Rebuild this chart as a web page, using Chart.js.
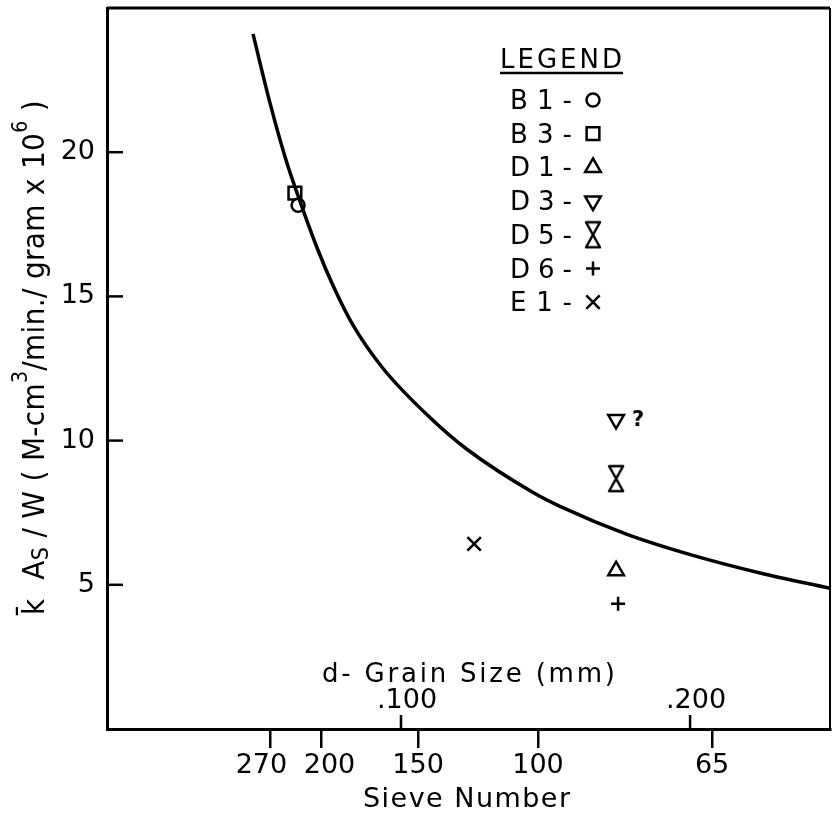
<!DOCTYPE html>
<html lang="en">
<head>
  <meta charset="UTF-8">
  <title>k As/W vs grain size</title>
  <script src="https://cdn.jsdelivr.net/npm/chart.js"></script>
  <style>
    body { margin: 0; padding: 0; background: #fff; }
    canvas { display: block; }
  </style>
</head>
<body>
  <canvas id="grainChart" width="832" height="816"></canvas>

  <script>
    // fitted curve (d in mm, k As/W)
    const curveD = [0.0488, 0.0547, 0.0600, 0.0640, 0.0713, 0.0766, 0.0834, 0.0938, 0.1100, 0.1228, 0.1457, 0.1550, 0.1782, 0.2010, 0.2242, 0.2484];
    const curveK = [24.1, 21.7, 19.8, 18.6, 16.6, 15.35, 14.0, 12.5, 10.8, 9.7, 8.2, 7.72, 6.75, 6.02, 5.41, 4.88];

    // measured samples
    const sampleNames = ['B1', 'B3', 'D1', 'D3', 'D5', 'D6', 'E1'];
    const sampleD = [0.0644, 0.0633, 0.1744, 0.1744, 0.1744, 0.1751, 0.1253];
    const sampleK = [18.16, 18.58, 5.49, 10.73, 8.68, 4.34, 6.42];

    // axes
    const sieveNumbers = ['270  ', '  200', '150', '100', '65'];
    const sieveD = [0.0547, 0.0723, 0.1059, 0.1474, 0.2076];
    const grainTicks = [0.100, 0.200];
    const grainLabels = ['.100', '.200'];
    const yTicks = [5, 10, 15, 20];

    const FONT = "'DejaVu Sans', sans-serif";
    const FONT_NARROW = "'DejaVu Sans Condensed', 'DejaVu Sans', sans-serif";

    // hourglass marker for D5
    const hourglass = document.createElement('canvas');
    hourglass.width = 18;
    hourglass.height = 29;
    (function () {
      const g = hourglass.getContext('2d');
      g.strokeStyle = '#000';
      g.lineWidth = 2.5;
      g.lineJoin = 'round';
      g.beginPath();
      g.moveTo(2, 2);
      g.lineTo(16, 2);
      g.lineTo(2, 27);
      g.lineTo(16, 27);
      g.closePath();
      g.stroke();
    })();

    const markers = [
      { pointStyle: 'circle', radius: 6.5, rotation: 0 },
      { pointStyle: 'rect', radius: 9, rotation: 0 },
      { pointStyle: 'triangle', radius: 9, rotation: 0 },
      { pointStyle: 'triangle', radius: 9, rotation: 180 },
      { pointStyle: hourglass, radius: 10, rotation: 0 },
      { pointStyle: 'cross', radius: 7, rotation: 0 },
      { pointStyle: 'crossRot', radius: 9.5, rotation: 0 }
    ];

    function spaced(ctx, text, x, y, font, width) {
      ctx.font = font;
      ctx.letterSpacing = '0px';
      const natural = ctx.measureText(text).width;
      const gap = width ? (width - natural) / Math.max(text.length - 1, 1) : 0;
      ctx.letterSpacing = gap + 'px';
      ctx.fillText(text, x, y);
      ctx.letterSpacing = '0px';
    }

    const datasets = [{
      label: 'curve',
      data: curveD.map((d, i) => ({ x: d, y: curveK[i] })),
      showLine: true,
      borderColor: '#000',
      borderWidth: 3.5,
      pointRadius: 0,
      cubicInterpolationMode: 'monotone'
    }];
    sampleNames.forEach((name, i) => {
      datasets.push({
        label: name,
        data: [{ x: sampleD[i], y: sampleK[i] }],
        pointStyle: markers[i].pointStyle,
        pointRadius: markers[i].radius,
        rotation: markers[i].rotation,
        borderColor: '#000',
        backgroundColor: '#fff',
        borderWidth: 2.5
      });
    });

    const decorations = {
      id: 'decorations',
      afterDraw(chart) {
        const ctx = chart.ctx;
        const a = chart.chartArea;
        const x = chart.scales.x;
        const y = chart.scales.y;
        ctx.save();
        ctx.strokeStyle = '#000';
        ctx.fillStyle = '#000';
        ctx.lineCap = 'butt';

        // top and right frame
        ctx.lineWidth = 3;
        ctx.beginPath();
        ctx.moveTo(a.left, a.top);
        ctx.lineTo(a.right, a.top);
        ctx.stroke();
        ctx.lineWidth = 2;
        ctx.beginPath();
        ctx.moveTo(a.right, a.top);
        ctx.lineTo(a.right, a.bottom);
        ctx.stroke();

        // inward y ticks
        ctx.lineWidth = 2.5;
        yTicks.forEach(v => {
          const py = y.getPixelForValue(v);
          ctx.beginPath();
          ctx.moveTo(a.left, py);
          ctx.lineTo(a.left + 16, py);
          ctx.stroke();
        });

        // grain size ticks inside, above the axis
        ctx.textAlign = 'center';
        ctx.textBaseline = 'alphabetic';
        grainTicks.forEach((v, i) => {
          const px = x.getPixelForValue(v);
          ctx.beginPath();
          ctx.moveTo(px, a.bottom);
          ctx.lineTo(px, a.bottom - 14);
          ctx.stroke();
          ctx.font = '27px ' + FONT;
          ctx.fillText(grainLabels[i], px + 6, a.bottom - 21);
        });
        ctx.textAlign = 'left';
        spaced(ctx, 'd- Grain Size (mm)', 322, 682, '26px ' + FONT, 293);
        spaced(ctx, 'Sieve Number', 363, 807, '27px ' + FONT, 207);

        // "?" beside D3
        const d3 = chart.getDatasetMeta(4).data[0];
        ctx.font = 'bold 21px ' + FONT;
        ctx.fillText('?', d3.x + 16, d3.y + 6);

        // legend
        spaced(ctx, 'LEGEND', 500, 68, '26px ' + FONT, 122);
        ctx.lineWidth = 2.5;
        ctx.beginPath();
        ctx.moveTo(500, 73);
        ctx.lineTo(623, 73);
        ctx.stroke();
        chart.data.datasets.slice(1).forEach((ds, i) => {
          const cy = 100 + i * 33.7;
          ctx.fillStyle = '#000';
          spaced(ctx, ds.label + '-', 510, cy + 9, '26px ' + FONT, 62);
          ctx.fillStyle = '#fff';
          ctx.lineWidth = 2.5;
          Chart.helpers.drawPoint(ctx, {
            pointStyle: ds.pointStyle,
            radius: ds.pointRadius,
            rotation: ds.rotation,
            borderWidth: 2.5
          }, 593, cy);
        });

        // y axis title, rotated
        ctx.fillStyle = '#000';
        ctx.translate(44, 615);
        ctx.rotate(-Math.PI / 2);
        const parts = [
          ['k\u0304', 0], ['  A', 0], ['S', 1], [' / W ( M-cm', 0], ['3', 2],
          ['/min./ gram x 10', 0], ['6', 2], [' )', 0]
        ];
        const fonts = ['31px ' + FONT_NARROW, '23px ' + FONT_NARROW, '21px ' + FONT_NARROW];
        const shifts = [0, 4, -17];
        let natural = 0, chars = 0;
        ctx.letterSpacing = '0px';
        parts.forEach(p => {
          ctx.font = fonts[p[1]];
          natural += ctx.measureText(p[0]).width;
          chars += p[0].length;
        });
        const gap = (515 - natural) / chars;
        let pos = 0;
        parts.forEach(p => {
          ctx.font = fonts[p[1]];
          ctx.letterSpacing = '0px';
          const w = ctx.measureText(p[0]).width;
          ctx.letterSpacing = gap + 'px';
          ctx.fillText(p[0], pos, shifts[p[1]]);
          pos += w + gap * p[0].length;
        });
        ctx.restore();
      }
    };

    new Chart(document.getElementById('grainChart'), {
      type: 'scatter',
      data: { datasets },
      options: {
        responsive: false,
        animation: false,
        layout: { autoPadding: false, padding: { left: 0, top: 8, right: 2, bottom: 0 } },
        plugins: {
          legend: { display: false },
          tooltip: { enabled: false }
        },
        scales: {
          x: {
            type: 'linear',
            min: -0.0017,
            max: 0.2484,
            afterBuildTicks: s => { s.ticks = sieveD.map(v => ({ value: v })); },
            afterFit: s => {
              s.height = 87;
              s.paddingLeft = 0;
              s.paddingRight = 0;
            },
            ticks: {
              autoSkip: false,
              maxRotation: 0,
              padding: 2,
              color: '#000',
              font: { family: FONT, size: 27 },
              callback: (v, i) => sieveNumbers[i]
            },
            grid: {
              display: true,
              drawOnChartArea: false,
              drawTicks: true,
              tickLength: 19,
              color: '#000',
              lineWidth: 2.5
            },
            border: { display: true, color: '#000', width: 3 }
          },
          y: {
            min: 0,
            max: 25,
            afterBuildTicks: s => { s.ticks = yTicks.map(v => ({ value: v })); },
            afterFit: s => {
              s.width = 107;
              s.paddingTop = 0;
              s.paddingBottom = 0;
            },
            ticks: {
              padding: 12,
              color: '#000',
              font: { family: FONT, size: 27 }
            },
            grid: { display: false, drawTicks: false },
            border: { display: true, color: '#000', width: 3 }
          }
        }
      },
      plugins: [decorations]
    });
  </script>
</body>
</html>
